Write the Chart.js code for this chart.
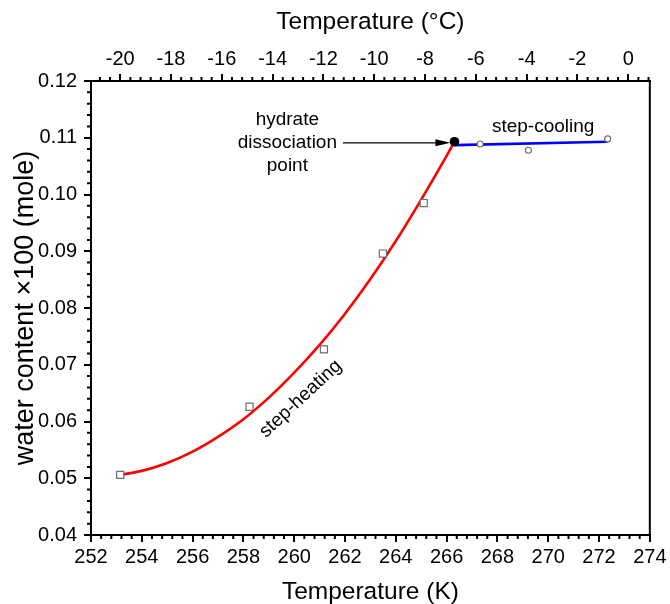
<!DOCTYPE html>
<html><head><meta charset="utf-8">
<script src="https://cdn.jsdelivr.net/npm/chart.js@4/dist/chart.umd.min.js"></script>
<style>html,body{margin:0;padding:0;background:#fff;}canvas{display:block;}</style>
</head><body>
<canvas id="c" width="670" height="604"></canvas>
<script>
const FONT = "'Liberation Sans', Arial, Helvetica, sans-serif";

// ---- data ----
// step-heating measurements (open squares)
const heatingT = [253.15, 258.24, 261.17, 263.49, 265.10];
const heatingW = [0.0506, 0.0626, 0.0727, 0.0896, 0.0985];
// step-cooling measurements (open circles)
const coolingT = [267.32, 269.22, 272.34];
const coolingW = [0.1089, 0.1078, 0.1098];
// hydrate dissociation point (filled circle)
const dissocT = [266.31];
const dissocW = [0.1093];
// red fitted curve (step-heating)
const heatFitT = [253.15, 254, 255, 256, 257, 258, 259, 260, 261, 262, 263, 264, 265, 266, 266.31];
const heatFitW = [0.0506, 0.0513, 0.0527, 0.0547, 0.0573, 0.0604, 0.0642, 0.0686, 0.0735, 0.0790, 0.0851, 0.0918, 0.0991, 0.1068, 0.1093];
// blue fitted line (step-cooling)
const coolFitT = [266.31, 272.34];
const coolFitW = [0.1087, 0.1093];

// axis ranges / tick labels
const kelvinMin = 252, kelvinMax = 274, kelvinStep = 2;
const celsiusTicks = [-20, -18, -16, -14, -12, -10, -8, -6, -4, -2, 0];
const waterMin = 0.04, waterMax = 0.12, waterStep = 0.01;
const kelvinOffset = 273.15;

// annotation anchors (data coords)
const noteHydrate = {t: 259.73, w: 0.1091, lines: ['hydrate', 'dissociation', 'point']};
const noteArrow = {t0: 261.92, t1: 266.15, w: 0.1091};
const noteCooling = {t: 269.80, w: 0.1120, text: 'step-cooling'};
const noteHeating = {t: 260.25, w: 0.0640, text: 'step-heating', angle: -43};

const pts = (xs, ys) => xs.map((x, i) => ({x, y: ys[i]}));

const extras = {
  id: 'extras',
  afterDraw(chart) {
    const ctx = chart.ctx, a = chart.chartArea;
    const sx = chart.scales.x, sx2 = chart.scales.x2, sy = chart.scales.y;
    ctx.save();
    ctx.strokeStyle = '#000';
    ctx.lineWidth = 2;
    // right frame line
    ctx.beginPath(); ctx.moveTo(a.right, a.top - 1); ctx.lineTo(a.right, a.bottom + 1); ctx.stroke();
    const ML = 4;
    ctx.beginPath();
    for (let i = 0; i <= 55; i++) {
      if (i % 5 === 0) continue;
      const px = sx.getPixelForValue(kelvinMin + i * 0.4);
      if (px < a.left || px > a.right) continue;
      ctx.moveTo(px, a.bottom); ctx.lineTo(px, a.bottom + ML);
    }
    for (let i = 0; i <= 60; i++) {
      if (i % 5 === 0) continue;
      const v = -22 + i * 0.4;
      const px = sx2.getPixelForValue(v);
      if (px < a.left + 0.5 || px > a.right - 0.5) continue;
      ctx.moveTo(px, a.top); ctx.lineTo(px, a.top - ML);
    }
    for (let i = 0; i <= 40; i++) {
      if (i % 5 === 0) continue;
      const py = sy.getPixelForValue(waterMin + i * 0.002);
      ctx.moveTo(a.left, py); ctx.lineTo(a.left - ML, py);
    }
    ctx.stroke();

    // annotations
    ctx.fillStyle = '#000';
    ctx.font = '19px ' + FONT;
    ctx.textAlign = 'center';
    ctx.textBaseline = 'middle';
    const hx = sx.getPixelForValue(noteHydrate.t), hy = sy.getPixelForValue(noteHydrate.w);
    noteHydrate.lines.forEach((s, i) => ctx.fillText(s, hx, hy + (i - 1) * 22.7));
    ctx.fillText(noteCooling.text, sx.getPixelForValue(noteCooling.t), sy.getPixelForValue(noteCooling.w));
    ctx.save();
    ctx.translate(sx.getPixelForValue(noteHeating.t), sy.getPixelForValue(noteHeating.w));
    ctx.rotate(noteHeating.angle * Math.PI / 180);
    ctx.fillText(noteHeating.text, 0, 0);
    ctx.restore();
    // arrow
    const ax0 = sx.getPixelForValue(noteArrow.t0), ax1 = sx.getPixelForValue(noteArrow.t1), ay = sy.getPixelForValue(noteArrow.w);
    ctx.lineWidth = 1.3;
    ctx.beginPath(); ctx.moveTo(ax0, ay); ctx.lineTo(ax1 - 12, ay); ctx.stroke();
    ctx.beginPath(); ctx.moveTo(ax1, ay); ctx.lineTo(ax1 - 15, ay - 3.5); ctx.lineTo(ax1 - 15, ay + 3.5); ctx.closePath(); ctx.fill();
    ctx.restore();
  }
};

const tickFont = {family: FONT, size: 20};
const titleFont = {family: FONT, size: 24.5, lineHeight: 1};

new Chart(document.getElementById('c'), {
  type: 'scatter',
  data: {
    datasets: [
      {label: 'dissociation point', data: pts(dissocT, dissocW), pointStyle: 'circle', pointRadius: 4.8, backgroundColor: '#000', borderColor: '#000', borderWidth: 0},
      {label: 'step-heating', data: pts(heatingT, heatingW), pointStyle: 'rect', pointRadius: 5, backgroundColor: '#fff', borderColor: '#6e6e6e', borderWidth: 1.2},
      {label: 'step-cooling', data: pts(coolingT, coolingW), pointStyle: 'circle', pointRadius: 3, backgroundColor: '#fff', borderColor: '#6e6e6e', borderWidth: 1.2},
      {label: 'cooling fit', data: pts(coolFitT, coolFitW), showLine: true, pointRadius: 0, borderColor: '#0000ff', borderWidth: 2.6},
      {label: 'heating fit', data: pts(heatFitT, heatFitW), showLine: true, pointRadius: 0, borderColor: '#ff0000', borderWidth: 2.6, cubicInterpolationMode: 'monotone'}
    ]
  },
  options: {
    responsive: false,
    devicePixelRatio: 1,
    animation: false,
    layout: {padding: {left: 0, right: 16, top: 0, bottom: 0}},
    plugins: {legend: {display: false}, tooltip: {enabled: false}},
    scales: {
      x: {
        type: 'linear', position: 'bottom', min: kelvinMin, max: kelvinMax,
        ticks: {stepSize: kelvinStep, font: tickFont, color: '#000', padding: 3.5, maxRotation: 0, autoSkip: false},
        grid: {drawOnChartArea: false, drawTicks: true, tickLength: 7, color: '#000', lineWidth: 2},
        border: {display: true, color: '#000', width: 2},
        title: {display: true, text: 'Temperature (K)', font: titleFont, color: '#000', padding: {top: 0, bottom: 0}},
        afterFit: s => { s.height = 69; }
      },
      x2: {
        type: 'linear', axis: 'x', position: 'top', min: kelvinMin - kelvinOffset, max: kelvinMax - kelvinOffset,
        afterBuildTicks: s => { s.ticks = celsiusTicks.map(v => ({value: v})); },
        ticks: {font: tickFont, color: '#000', padding: 2.6, maxRotation: 0, autoSkip: false,
                callback: v => String(Math.round(v))},
        grid: {drawOnChartArea: false, drawTicks: true, tickLength: 7, color: '#000', lineWidth: 2},
        border: {display: true, color: '#000', width: 2},
        title: {display: true, text: 'Temperature (°C)', font: titleFont, color: '#000', padding: {top: 9.75, bottom: 0}},
        afterFit: s => { s.height = 81; }
      },
      y: {
        type: 'linear', position: 'left', min: waterMin, max: waterMax,
        ticks: {stepSize: waterStep, font: tickFont, color: '#000', padding: 7, callback: v => v.toFixed(2)},
        grid: {drawOnChartArea: false, drawTicks: true, tickLength: 7, color: '#000', lineWidth: 2},
        border: {display: true, color: '#000', width: 2},
        title: {display: true, text: 'water content ×100 (mole)', font: {family: FONT, size: 27, lineHeight: 1}, color: '#000', padding: {top: 12.5, bottom: 0}},
        afterFit: s => { s.width = 91; }
      }
    }
  },
  plugins: [extras]
});
</script>
</body></html>
